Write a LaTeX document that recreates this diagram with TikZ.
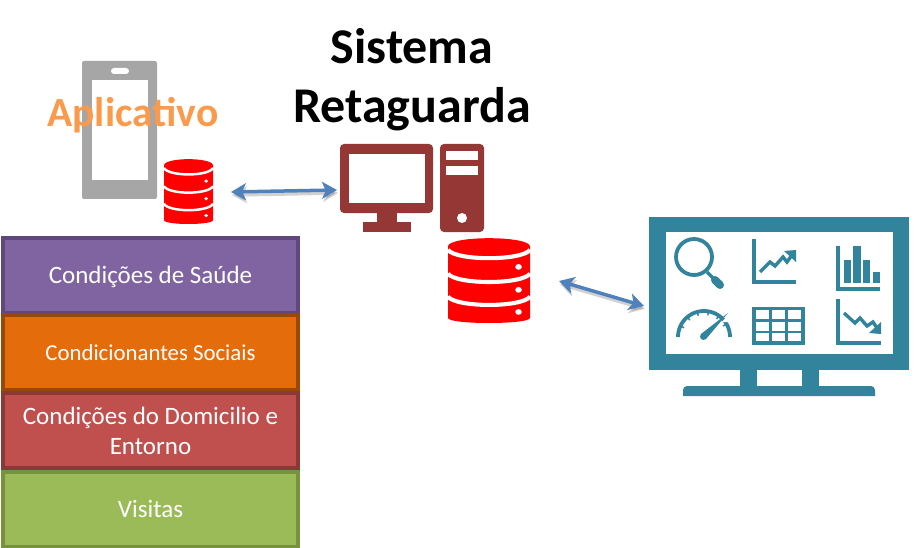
\documentclass[tikz,border=0pt]{standalone}
\usepackage{fontspec}
\setmainfont{Carlito}
\usepackage{xcolor}
\usetikzlibrary{positioning,arrows.meta,calc}
\definecolor{phonegray}{RGB}{166,166,166}
\definecolor{dbred}{RGB}{255,0,0}
\definecolor{pcred}{RGB}{149,55,53}
\definecolor{teal}{RGB}{49,132,155}
\definecolor{arrowblue}{RGB}{79,129,189}
\definecolor{apporange}{RGB}{250,154,76}
\tikzset{
  stackbox/.style={draw,line width=4pt,minimum width=295pt,minimum height=75pt,inner sep=2pt,
    align=center,text=white,font=\fontsize{25}{30}\selectfont},
  singleline/.style={text height=20pt,text depth=4pt},
  iconbox/.style={inner sep=0pt,outer sep=0pt,minimum height=10pt},
  linkarrow/.style={{Stealth[length=15pt,width=17pt,inset=4pt]}-{Stealth[length=15pt,width=17pt,inset=4pt]},line width=3.5pt,arrowblue},
  linkshadow/.style={linkarrow,draw=black,opacity=0.18},
  chartline/.style={teal,line width=3.4pt},
}
\begin{document}
\begin{tikzpicture}[x=1pt,y=-1pt]
\useasboundingbox (0,0) rectangle (915,548);
% phone
\fill[phonegray,rounded corners=2pt] (82,61) rectangle (157,199);
\fill[white] (92,80) rectangle (148,180);
\fill[white,rounded corners=3pt] (111,68) rectangle (129,74);
\node (aplicativo) at (133,115) {\fontsize{41.5}{44}\selectfont\bfseries\textcolor{apporange}{Aplicativo}};
\node (titulo) at (412,80) [align=center,font=\fontsize{50}{59}\selectfont\bfseries] {Sistema\\Retaguarda};
% databases
\foreach \px/\py/\sw/\sh in {164/159/49/65,448/238/82/85}{
\begin{scope}[shift={(\px,\py)},x=\sw pt,y=-\sh pt]
  \fill[dbred] (0,0.1) .. controls (0,-0.03) and (1,-0.03) .. (1,0.1) -- (1,0.94) .. controls (1,1.02) and (0,1.02) .. (0,0.94) -- cycle;
  \foreach \yy/\yb in {0.14/0.27,0.42/0.55,0.69/0.82}{
    \draw[white,line width=\sw*0.05pt] (0,\yy) .. controls (0.1,\yb) and (0.9,\yb) .. (1,\yy);}
  \foreach \yy in {0.34,0.61,0.87}{
    \fill[white] (0.86,\yy) ellipse [x radius=\sw*0.04pt,y radius=\sw*0.035pt];}
\end{scope}}
% computer
\fill[pcred,rounded corners=4pt] (340,144) rectangle (433,213);
\fill[white] (349,154) rectangle (425,203);
\fill[pcred] (377,213) rectangle (397,222);
\fill[pcred] (363,222) rectangle (411,232);
\fill[pcred,rounded corners=4pt] (440,144) rectangle (484,232);
\fill[white] (446,151) rectangle (478,160);
\fill[white] (446,166) rectangle (478,175);
\fill[white] (462,218) circle (5pt);
% dashboard
\fill[teal] (649,217) rectangle (909,370);
\fill[white] (666,232) rectangle (893,354);
\fill[teal] (740,370) rectangle (757,387);
\fill[teal] (802,370) rectangle (819,387);
\fill[teal] (683,396) [rounded corners=4pt] -- (683,386) -- (875,386) [sharp corners] -- (875,396) -- cycle;
\draw[chartline,line width=3.8pt] (694,257) circle (18pt);
\draw[chartline] (707,272) -- (714,279);
\draw[chartline,line width=8pt,line cap=round] (715,280) -- (720,285);
\draw[chartline] (754,239) -- (754,282) -- (796,282);
\draw[chartline] (760,272) -- (770,262) -- (775,266) -- (783,257) -- (787,262) -- (792,255);
\fill[teal] (784,251) -- (796,250) -- (796,262) -- cycle;
\draw[chartline] (838,246) -- (838,289) -- (880,289);
\foreach \xa/\xb/\yt in {844/851/260,853/861/246,863/870/260,873/880/272}{
  \fill[teal] (\xa,\yt) rectangle (\xb,283);}
\draw[chartline,line width=3.8pt,domain=0:180,samples=40] plot ({704+26*cos(\x)},{337-26*sin(\x)});
\foreach \a in {30,55,80,105,130,155}{
  \draw[teal,line width=1.5pt] ({704+26*cos(\a)},{337-26*sin(\a)}) -- ({704+22*cos(\a)},{337-22*sin(\a)});}
\fill[white] (722,322) -- (733,309) -- (733,322) -- cycle;
\fill[teal] (701,334) -- (728,313) -- (706,339) -- cycle;
\fill[teal] (703.5,336.5) circle (3.5pt);
\fill[teal] (752,307) rectangle (805,345);
\foreach \xa/\xb in {756/769,772/785,788/801}{\foreach \ya/\yb in {310/319,322/331,333/341}{
  \fill[white] (\xa,\ya) rectangle (\xb,\yb);}}
\draw[chartline] (838,299) -- (838,343) -- (881,343);
\draw[chartline] (844,313) -- (855,323) -- (860,318) -- (867,326) -- (873,322) -- (877,328);
\fill[teal] (881,322) -- (881,334) -- (869,333) -- cycle;
% stack
\node (saude) at (150.5,275.5) [stackbox,singleline,draw={rgb,255:red,96;green,73;blue,122},fill={rgb,255:red,128;green,100;blue,162}] {Condições de Saúde};
\node (sociais) at (150.5,352.5) [stackbox,singleline,font=\fontsize{22.8}{30}\selectfont,draw={rgb,255:red,152;green,72;blue,7},fill={rgb,255:red,228;green,108;blue,10}] {Condicionantes Sociais};
\node (domicilio) at (150.5,430.5) [stackbox,draw={rgb,255:red,140;green,56;blue,54},fill={rgb,255:red,192;green,80;blue,77}] {Condições do Domicilio e\\Entorno};
\node (visitas) at (150.5,509) [stackbox,singleline,draw={rgb,255:red,118;green,146;blue,60},fill={rgb,255:red,155;green,187;blue,89}] {Visitas};
% connectors
\node (dbapp) at (188,192) [iconbox,minimum width=86pt] {};
\node (pc) at (411,190) [iconbox,minimum width=148pt] {};
\node (dbret) at (489,281) [iconbox,minimum width=140pt] {};
\node (painel) at (780,306) [iconbox,minimum width=272pt] {};
\draw[linkshadow] ($(dbapp.east)+(1,3)$) -- ($(pc.west)+(1,3)$);
\draw[linkshadow] ($(dbret.east)+(1,3)$) -- ($(painel.west)+(1,3)$);
\draw[linkarrow] (dbapp.east) -- (pc.west);
\draw[linkarrow] (dbret.east) -- (painel.west);
\end{tikzpicture}
\end{document}
